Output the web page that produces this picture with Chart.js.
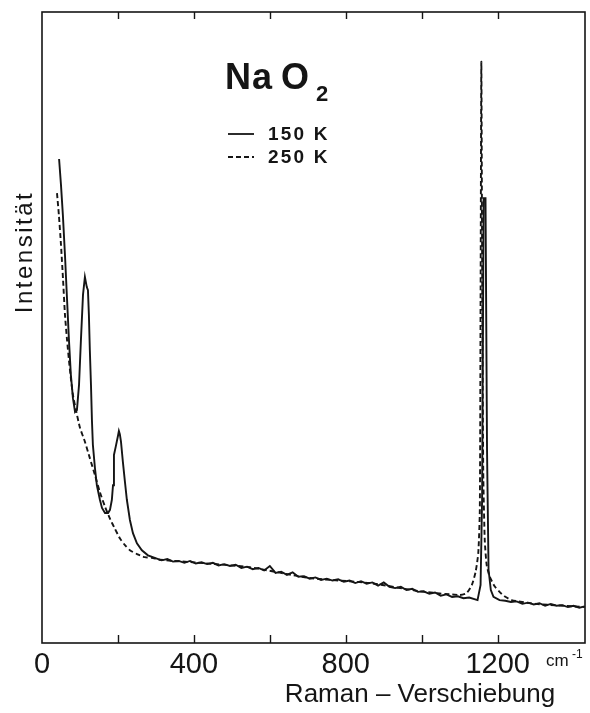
<!DOCTYPE html>
<html lang="de">
<head>
<meta charset="UTF-8">
<title>NaO2 Raman</title>
<script src="https://cdn.jsdelivr.net/npm/chart.js"></script>
<style>
  body { margin: 0; background: #fff; }
  #wrap { width: 590px; height: 713px; position: relative; }
</style>
</head>
<body>
<div id="wrap"><canvas id="raman"></canvas></div>
<script>
// Raman-Verschiebung (cm-1) und Intensität (willk. Einheiten), 150 K
const shift150 = [45, 50, 55, 60.5, 66, 71, 76, 81.5, 87, 92, 97.5, 102.5, 108, 113, 118, 121, 123.5, 126, 129, 131.5, 134, 139.5, 144.5, 152.5, 158, 166, 174, 179, 184, 187, 189.5, 194.5, 200, 202.5, 205, 208, 213, 218.5, 223.5, 231.5, 239.5, 250, 263, 279, 297,
  315, 330, 345, 360, 375, 390, 405, 420, 435, 450, 465, 480, 495, 510, 525, 540, 555, 570, 585, 600, 615, 630, 645, 660, 675, 690, 705, 720, 735, 750, 765, 780, 795, 810, 825, 840, 855, 870, 885, 900, 915, 930, 945, 960, 975, 990, 1005, 1020, 1035, 1050, 1065, 1080, 1095, 1110, 1125,
  1147, 1155, 1159, 1163, 1168, 1172, 1176, 1182, 1189, 1205,
  1220, 1235, 1250, 1265, 1280, 1295, 1310, 1325, 1340, 1355, 1370, 1385, 1400, 1415, 1429];
const int150 = [76.7, 72.6, 67.8, 61.5, 54.4, 48.0, 42.5, 38.8, 36.6, 36.9, 40.9, 48.0, 55.2, 58.0, 56.4, 55.9, 52.0, 46.4, 40.9, 35.3, 31.4, 27.7, 25.0, 22.7, 21.4, 20.6, 20.6, 21.1, 22.7, 25.0, 29.8, 31.2, 32.8, 33.6, 33.1, 31.9, 28.7, 25.5, 22.7, 19.5, 17.4, 15.8, 14.7, 13.9, 13.5,
  13.1, 13.3, 12.9, 13.0, 12.7, 13.0, 12.6, 12.8, 12.5, 12.7, 12.3, 12.5, 12.2, 12.4, 11.9, 12.1, 11.7, 11.9, 11.5, 12.2, 11.1, 11.3, 10.8, 11.2, 10.5, 10.6, 10.2, 10.4, 10.0, 10.2, 9.9, 10.1, 9.7, 9.9, 9.5, 9.8, 9.4, 9.6, 9.1, 9.6, 8.9, 8.7, 8.9, 8.4, 8.6, 8.1, 8.2, 7.8, 8.0, 7.5, 7.7, 7.3, 7.4, 7.1, 7.2,
  6.8, 9.2, 22.7, 70.5, 70.5, 30.6, 11.6, 8.4, 7.3, 6.8,
  6.7, 6.5, 6.6, 6.2, 6.4, 6.1, 6.3, 5.9, 6.2, 5.9, 6.0, 5.7, 5.9, 5.6, 5.8];

// 250 K
const shift250 = [39.5, 44.5, 50, 55.5, 60.5, 66, 71, 76.5, 81.5, 89.5, 100, 113, 126, 139.5, 152.5, 166, 179, 192, 205, 218.5, 231.5, 250, 271, 289.5,
  310, 416, 547, 705, 863, 995, 1100,
  1118, 1132, 1142, 1149, 1153, 1155, 1157, 1159, 1162, 1166, 1171, 1179, 1192, 1205, 1218, 1237, 1300, 1429];
const int250 = [71.3, 67.8, 63.1, 57.5, 52.0, 48.0, 44.8, 41.7, 39.3, 36.9, 34.1, 31.9, 29.3, 26.6, 23.9, 21.6, 19.7, 18.1, 16.6, 15.5, 14.7, 14.1, 13.6, 13.5,
  13.2, 12.7, 12.0, 10.3, 9.5, 8.2, 7.6,
  7.9, 9.2, 11.3, 14.3, 21.1, 54.4, 92.1, 62.3, 27.4, 16.3, 12.4, 10.5, 9.0, 8.1, 7.4, 6.8, 6.2, 5.7];

const labelTicks = [0, 400, 800, 1200];
const markTicks = [200, 400, 600, 800, 1000, 1200];

const ink = '#151515';
const sans = '"Liberation Sans", Arial, Helvetica, sans-serif';

function toPoints(xs, ys) {
  return xs.map((x, i) => ({ x: x, y: ys[i] }));
}

// Rahmen, Teilstriche, Beschriftungen und Legende
const decor = {
  id: 'decor',
  afterDraw(chart) {
    const { ctx, chartArea: a, scales } = chart;
    const xs = scales.x;
    ctx.save();
    ctx.strokeStyle = ink;
    ctx.lineWidth = 1.6;
    ctx.strokeRect(a.left, a.top, a.right - a.left, a.bottom - a.top);

    ctx.lineWidth = 1.4;
    markTicks.forEach(v => {
      const px = Math.round(xs.getPixelForValue(v)) + 0.5;
      ctx.beginPath();
      ctx.moveTo(px, a.bottom);
      ctx.lineTo(px, a.bottom - 8);
      ctx.moveTo(px, a.top);
      ctx.lineTo(px, a.top + 7);
      ctx.stroke();
    });

    ctx.fillStyle = ink;
    ctx.textBaseline = 'alphabetic';

    // Einheit neben der Achse
    ctx.font = '17px ' + sans;
    ctx.textAlign = 'left';
    ctx.fillText('cm', 546, 666);
    ctx.font = '12px ' + sans;
    ctx.fillText('-1', 572, 658);

    ctx.font = '26px ' + sans;
    ctx.textAlign = 'center';
    ctx.fillText('Raman – Verschiebung', 420, 702);

    ctx.save();
    ctx.translate(32, 252);
    ctx.rotate(-Math.PI / 2);
    ctx.font = '24px ' + sans;
    ctx.letterSpacing = '2.5px';
    ctx.fillText('Intensität', 0, 0);
    ctx.restore();

    // NaO2
    ctx.textAlign = 'left';
    ctx.font = 'bold 36px ' + sans;
    ctx.letterSpacing = '1px';
    ctx.fillText('Na', 225, 89);
    ctx.letterSpacing = '0px';
    ctx.fillText('O', 281, 89);
    ctx.font = 'bold 22px ' + sans;
    ctx.fillText('2', 316, 101);

    // Legende
    const rows = [134, 157];
    chart.data.datasets.forEach((ds, i) => {
      const y = rows[i];
      ctx.beginPath();
      ctx.lineWidth = 1.8;
      ctx.setLineDash(ds.borderDash || []);
      ctx.moveTo(228, y);
      ctx.lineTo(254, y);
      ctx.stroke();
      ctx.setLineDash([]);
      ctx.font = 'bold 19px ' + sans;
      ctx.letterSpacing = '2.2px';
      ctx.textBaseline = 'middle';
      ctx.fillText(ds.label, 268, y + 1);
    });
    ctx.restore();
  }
};

new Chart(document.getElementById('raman'), {
  type: 'line',
  data: {
    datasets: [
      {
        label: '150 K',
        data: toPoints(shift150, int150),
        borderColor: ink,
        borderWidth: 1.9,
        pointRadius: 0,
        tension: 0
      },
      {
        label: '250 K',
        data: toPoints(shift250, int250),
        borderColor: ink,
        borderWidth: 1.9,
        borderDash: [5, 3],
        pointRadius: 0,
        tension: 0.2
      }
    ]
  },
  options: {
    responsive: true,
    maintainAspectRatio: false,
    animation: false,
    layout: { padding: { top: 12, right: 5, left: 0, bottom: 0 } },
    plugins: { legend: { display: false }, tooltip: { enabled: false } },
    scales: {
      x: {
        type: 'linear',
        min: 0,
        max: 1430,
        grid: { display: false, drawTicks: false },
        border: { display: false },
        afterBuildTicks: s => { s.ticks = labelTicks.map(v => ({ value: v })); },
        afterFit: s => { s.height = 70; },
        ticks: {
          autoSkip: false,
          maxRotation: 0,
          padding: 5,
          color: ink,
          font: { family: sans, size: 29 },
          callback: v => String(v)
        }
      },
      y: {
        min: 0,
        max: 100,
        grid: { display: false, drawTicks: false },
        border: { display: false },
        ticks: { display: false },
        afterFit: s => { s.width = 42; }
      }
    }
  },
  plugins: [decor]
});
</script>
</body>
</html>
